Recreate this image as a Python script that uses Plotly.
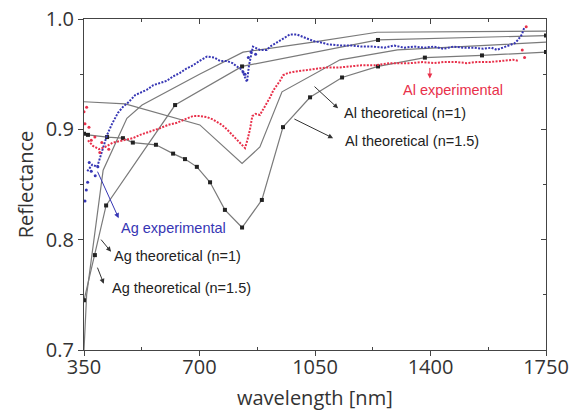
import plotly.graph_objects as go

# ---------------- data ----------------
# Ag experimental (main trend + scattered points)
ag_exp_nm = [360, 375, 390, 405, 420, 435, 453, 470, 483, 505, 525, 541, 560, 580, 601, 620, 640, 660,
             680, 700, 723, 745, 762, 783, 800, 813, 829, 838, 844, 850, 862, 883, 904, 914, 930, 944,
             960, 974, 995, 1010, 1026, 1045, 1065, 1090, 1126, 1160, 1190, 1226, 1260, 1290, 1320,
             1350, 1380, 1410, 1440, 1470, 1500, 1530, 1560, 1585, 1601, 1620, 1641, 1655, 1665, 1677, 1684]
ag_exp_r = [0.862, 0.868, 0.866, 0.880, 0.895, 0.905, 0.915, 0.921, 0.924, 0.931, 0.934, 0.936, 0.940,
            0.942, 0.944, 0.948, 0.951, 0.955, 0.958, 0.962, 0.966, 0.965, 0.962, 0.962, 0.960, 0.957,
            0.954, 0.947, 0.943, 0.958, 0.975, 0.972, 0.972, 0.975, 0.978, 0.981, 0.984, 0.986, 0.986,
            0.984, 0.982, 0.980, 0.979, 0.977, 0.976, 0.976, 0.975, 0.975, 0.974, 0.976, 0.974, 0.975,
            0.974, 0.975, 0.973, 0.975, 0.974, 0.974, 0.973, 0.974, 0.972, 0.974, 0.976, 0.978, 0.981,
            0.986, 0.992]
ag_sc_nm = [353, 357, 361, 366, 372, 384, 392, 832, 838, 848, 856, 870]
ag_sc_r = [0.835, 0.845, 0.852, 0.870, 0.862, 0.858, 0.866, 0.952, 0.950, 0.965, 0.970, 0.968]

# Al experimental
al_exp_nm = [362, 377, 395, 414, 438, 468, 498, 520, 541, 560, 580, 605, 632, 655, 680, 701, 723, 740,
             753, 768, 783, 796, 808, 820, 829, 838, 845, 853, 860, 870, 883, 895, 904, 914, 923, 935,
             944, 953, 968, 983, 1005, 1026, 1055, 1086, 1120, 1156, 1190, 1230, 1277, 1307, 1340, 1377,
             1410, 1440, 1480, 1510, 1540, 1580, 1610, 1650, 1668]
al_exp_r = [0.890, 0.885, 0.882, 0.884, 0.888, 0.890, 0.892, 0.895, 0.897, 0.899, 0.901, 0.904, 0.906,
            0.909, 0.912, 0.912, 0.911, 0.909, 0.907, 0.904, 0.900, 0.896, 0.892, 0.889, 0.886, 0.883,
            0.890, 0.900, 0.912, 0.914, 0.913, 0.919, 0.924, 0.929, 0.935, 0.940, 0.944, 0.949, 0.951,
            0.952, 0.953, 0.954, 0.955, 0.956, 0.956, 0.957, 0.958, 0.958, 0.960, 0.960, 0.960, 0.961,
            0.960, 0.961, 0.961, 0.960, 0.961, 0.961, 0.962, 0.963, 0.962]
al_sc_nm = [350, 353, 358, 365, 372, 383, 398, 404, 425, 1678, 1685, 1690]
al_sc_r = [0.916, 0.905, 0.920, 0.902, 0.890, 0.893, 0.879, 0.888, 0.882, 0.972, 0.965, 0.993]

# theoretical curves
ag1_nm = [350, 358, 408, 480, 526, 700, 832, 1044, 1238, 1750]
ag1_r = [0.700, 0.750, 0.863, 0.910, 0.922, 0.950, 0.970, 0.979, 0.988, 0.989]

ag15_nm = [350, 383, 417, 626, 829, 1241, 1750]
ag15_r = [0.745, 0.786, 0.831, 0.922, 0.957, 0.981, 0.985]

al1_nm = [350, 475, 701, 829, 883, 950, 1126, 1300, 1750]
al1_r = [0.925, 0.923, 0.904, 0.869, 0.884, 0.934, 0.963, 0.972, 0.979]

al15_nm = [350, 362, 420, 468, 498, 568, 620, 656, 692, 732, 777, 829, 889, 953, 1035, 1132, 1241,
           1383, 1556, 1750]
al15_r = [0.896, 0.895, 0.893, 0.892, 0.888, 0.886, 0.878, 0.873, 0.866, 0.852, 0.827, 0.811, 0.836,
          0.902, 0.929, 0.947, 0.957, 0.965, 0.967, 0.970]

x_ticks = [350, 700, 1050, 1400, 1750]
x_minor = [525, 875, 1225, 1575]
y_ticks = [0.7, 0.8, 0.9, 1.0]
y_minor = [0.75, 0.85, 0.95]

BLUE = "#3636b4"
RED = "#e8304a"
GRAY = "#7a7a7a"
DOTS = "2px,1.4px"

fig = go.Figure()

# theoretical lines
fig.add_trace(go.Scatter(x=ag1_nm, y=ag1_r, mode="lines", line=dict(color=GRAY, width=1.2)))
fig.add_trace(go.Scatter(x=al1_nm, y=al1_r, mode="lines", line=dict(color=GRAY, width=1.2)))
fig.add_trace(go.Scatter(x=ag15_nm, y=ag15_r, mode="lines+markers", line=dict(color=GRAY, width=1.2),
                         marker=dict(color="#222", size=4, symbol="square")))
fig.add_trace(go.Scatter(x=al15_nm, y=al15_r, mode="lines+markers", line=dict(color=GRAY, width=1.2),
                         marker=dict(color="#222", size=4, symbol="square")))

# experimental
fig.add_trace(go.Scatter(x=ag_exp_nm, y=ag_exp_r, mode="lines", line=dict(color=BLUE, width=2, dash=DOTS)))
fig.add_trace(go.Scatter(x=ag_sc_nm, y=ag_sc_r, mode="markers", marker=dict(color=BLUE, size=3)))
fig.add_trace(go.Scatter(x=al_exp_nm, y=al_exp_r, mode="lines", line=dict(color=RED, width=2, dash=DOTS)))
fig.add_trace(go.Scatter(x=al_sc_nm, y=al_sc_r, mode="markers", marker=dict(color=RED, size=3)))

# labels
lab_font = dict(family="Liberation Sans, Arial", size=14.5, color="#222")
labels = [
    ("Al experimental", 1468, 0.9356, RED),
    ("Al theoretical (n=1)", 1323, 0.9147, "#222"),
    ("Al theoretical (n=1.5)", 1344, 0.889, "#222"),
    ("Ag experimental", 621, 0.8104, BLUE),
    ("Ag theoretical (n=1)", 633, 0.785, "#222"),
    ("Ag theoretical (n=1.5)", 644, 0.756, "#222"),
]
for t, x, y, c in labels:
    fig.add_annotation(x=x, y=y, text=t, showarrow=False, font=dict(lab_font, color=c))

arrows = [
    (1398, 0.946, 1398, 0.957, RED),
    (1120, 0.919, 1044, 0.940, "#333"),
    (1105, 0.892, 983, 0.910, "#333"),
    (455, 0.8195, 389, 0.863, BLUE),
    (432, 0.789, 398, 0.8014, "#333"),
    (410, 0.760, 389, 0.776, "#333"),
]
for x, y, ax, ay, c in arrows:
    fig.add_annotation(x=x, y=y, ax=ax, ay=ay, xref="x", yref="y", axref="x", ayref="y",
                       text="", showarrow=True, arrowhead=2, arrowsize=1, arrowwidth=1,
                       arrowcolor=c, standoff=0, startstandoff=0)

tick_font = dict(family="Open Sans", size=20, color="#333")

# x-axis title placed as a paper annotation (centered below the tick labels)
fig.add_annotation(x=0.5, y=-0.145, xref="paper", yref="paper", text="wavelength [nm]",
                   showarrow=False, font=tick_font, yanchor="middle")

fig.update_layout(
    width=573, height=414,
    margin=dict(l=84, r=27, t=19, b=64, autoexpand=False),
    plot_bgcolor="white", paper_bgcolor="white",
    showlegend=False,
    xaxis=dict(range=[350, 1750], tickvals=x_ticks, ticks="outside", ticklen=5, tickcolor="#444",
               showgrid=False, zeroline=False, showline=True, linecolor="#444", linewidth=1.3,
               mirror=True, tickfont=tick_font, automargin=False, ticklabelstandoff=-6,
               minor=dict(tickvals=x_minor, ticks="inside", ticklen=3, tickcolor="#444")),
    yaxis=dict(range=[0.7, 1.0], tickvals=y_ticks, tickformat=".1f", ticks="outside", ticklen=5,
               tickcolor="#444", showgrid=False, zeroline=False, showline=True, linecolor="#444",
               linewidth=1.3, mirror=True, tickfont=tick_font, automargin=False,
               minor=dict(tickvals=y_minor, ticks="outside", ticklen=3, tickcolor="#444"),
               title=dict(text="Reflectance", font=tick_font, standoff=6)),
    xaxis2=dict(range=[350, 1750], overlaying="x", side="top", tickvals=x_ticks, ticks="inside",
                ticklen=5, tickcolor="#444", showticklabels=False, showgrid=False, zeroline=False,
                automargin=False,
                minor=dict(tickvals=x_minor, ticks="inside", ticklen=3, tickcolor="#444")),
    yaxis2=dict(range=[0.7, 1.0], overlaying="y", side="right", tickvals=y_ticks, ticks="inside",
                ticklen=5, tickcolor="#444", showticklabels=False, showgrid=False, zeroline=False,
                automargin=False,
                minor=dict(tickvals=y_minor, ticks="inside", ticklen=3, tickcolor="#444")),
)
# invisible trace to activate mirror axes
fig.add_trace(go.Scatter(x=[350], y=[0.7], xaxis="x2", yaxis="y2", mode="markers",
                         marker=dict(opacity=0), hoverinfo="skip"))

fig.write_html("out.html")
